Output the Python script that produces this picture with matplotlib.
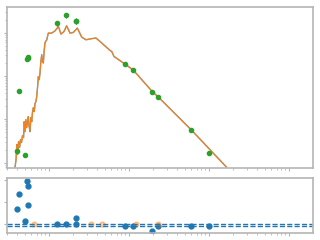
import numpy as np
import matplotlib
matplotlib.use("Agg")
import matplotlib.pyplot as plt

# model spectrum (wavelength, flux)
model_wave = [0.376, 0.387, 0.395, 0.404, 0.416, 0.428, 0.440, 0.453, 0.466, 0.480,
              0.490, 0.501, 0.513, 0.526, 0.539, 0.551, 0.562, 0.579, 0.592, 0.608,
              0.622, 0.637, 0.653, 0.668, 0.684, 0.702, 0.718, 0.735, 0.754, 0.772,
              0.790, 0.811, 0.830, 0.849, 0.871, 0.891, 0.936, 0.980, 1.08, 1.19,
              1.31, 1.41, 1.54, 1.66, 1.83, 2.01, 2.26, 2.56, 2.90, 3.32,
              3.87, 4.34, 5.79, 6.08, 6.49, 8.91, 11.3, 19.6, 23.2, 60.1, 100.0, 166.0]
model_flux = [0.79, 1.17, 2.6, 1.53, 3.05, 2.22, 3.40, 2.90, 4.2, 3.78,
              8.85, 5.2, 9.84, 6.43, 8.85, 11.5, 7.16, 5.2, 10.9, 8.85,
              15.1, 18.6, 15.1, 23.0, 25.6, 33.4, 54.0, 96.9, 82.6, 120.0,
              215.0, 312.0, 215.0, 201.0, 407.0, 591.0, 693.0, 989.0, 989.0, 1117.0,
              1406.0, 938.0, 1077.0, 1459.0, 989.0, 1021.0, 1291.0, 800.0, 693.0, 731.0,
              759.0, 633.0, 392.0, 372.0, 285.0, 190.0, 138.0, 43.6, 32.9, 5.69, 2.10, 0.78]

# observed photometry
obs_wave = [0.402, 0.425, 0.506, 0.535, 0.551, 0.545, 1.27, 1.64, 2.19, 2.20,
            8.91, 11.3, 19.6, 23.2, 60.1, 100.0]
obs_flux = [1.89, 46.0, 1.53, 252.0, 270.0, 262.0, 1683.0, 2578.0, 1874.0, 1860.0,
            190.0, 138.0, 43.6, 32.9, 5.69, 1.68]
obs_err = [0.15, 4.0, 0.12, 30.0, 30.0, 30.0, 250.0, 380.0, 280.0, 280.0,
           8.0, 6.0, 2.0, 1.5, 0.3, 0.1]

# residuals
resid = [0.69, 1.34, 0.15, 1.95, 1.75, 0.84, 0.01, 0.01, 0.28, 0.01,
         -0.08, -0.12, -0.32, -0.12, -0.12, -0.12]
upper_wave = [0.65, 3.35, 4.6, 12.2, 22.9]
upper_resid = [0, 0, 0, 0, 0]
mean_resid = -0.12

fig = plt.figure(figsize=(3.2, 2.4), dpi=100)
ax = fig.add_axes([0.022, 0.302, 0.956, 0.669])
ax2 = fig.add_axes([0.022, 0.031, 0.956, 0.227])

ax.plot(model_wave, model_flux, color="C0", lw=1.0, alpha=0.7)
ax.plot(model_wave, model_flux, color="C1", lw=0.9, alpha=0.9)
ax.errorbar(obs_wave, obs_flux, yerr=obs_err, fmt="o", color="C2", ms=3, elinewidth=0.8, capsize=0)
ax.set_xscale("log")
ax.set_yscale("log")
ax.set_xlim(10 ** -0.525, 10 ** 3.3)
ax.set_ylim(10 ** -0.115, 10 ** 3.6)

ax2.plot(obs_wave, resid, "o", color="C0", ms=3.5)
ax2.plot(upper_wave, upper_resid, "o", color="C1", ms=3.5, alpha=0.4)
ax2.axhline(0, color="C0", ls="--", lw=1)
ax2.axhline(mean_resid, color="C0", ls="--", lw=1)
ax2.set_xscale("log")
ax2.set_xlim(10 ** -0.525, 10 ** 3.3)
ax2.set_ylim(-0.40, 2.09)
ax2.set_yticks([0, 1, 2])

for a in (ax, ax2):
    for s in a.spines.values():
        s.set_color("#b5b5b5")
        s.set_linewidth(1.2)
    a.tick_params(which="major", length=2.5, width=0.8, color="#b5b5b5",
                  labelbottom=False, labelleft=False)
    a.tick_params(which="minor", length=1.5, width=0.6, color="#b5b5b5")

fig.savefig("out.png", dpi=100)
